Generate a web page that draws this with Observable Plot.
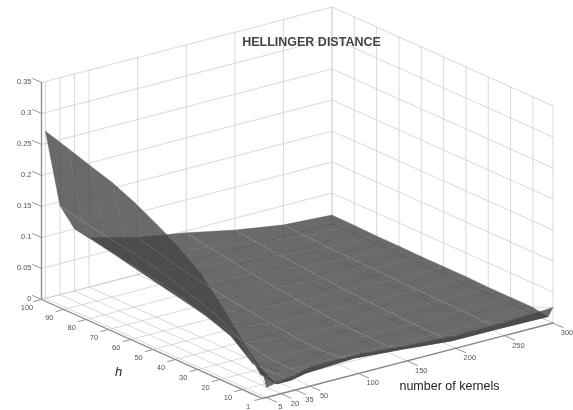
<!DOCTYPE html>
<html>
<head>
<meta charset="utf-8">
<style>
html,body{margin:0;padding:0;background:#fff}
svg{display:block;filter:blur(.55px)}
</style>
<script src="https://cdn.jsdelivr.net/npm/d3@7"></script>
<script src="https://cdn.jsdelivr.net/npm/@observablehq/plot@0.6"></script>
</head>
<body>
<div id="chart"></div>
<script>
// Data
const kernels = [5, 20, 35, 50, 100, 150, 200, 250, 300];
const hTicks = [1, 10, 20, 30, 40, 50, 60, 70, 80, 90, 100];
const hSamples = [1, 3, 10, 20, 30, 40, 50, 60, 70, 80, 90, 100];
const zTicks = [0, 0.05, 0.1, 0.15, 0.2, 0.25, 0.3, 0.35];
const zLabels = ["0", "0.05", "0.1", "0.15", "0.2", "0.25", "0.3", "0.35"];
// one row per number of kernels, one column per h (same order as hSamples)
const distK5   = [.016, .042, .069, .113, .153, .179, .2,   .2194,.2355,.2468,.2587,.27];
const distK20  = [.021, .012, .016, .06,  .08,  .093, .105, .115, .122, .128, .135, .1435];
const distK35  = [.024, .012, .012, .011, .04,  .053, .0645,.074, .08,  .087, .0935,.1];
const distK50  = [.031, .017, .014, .016, .024, .032, .04,  .048, .056, .064, .072, .08];
const distK100 = [.031, .021, .012, .01,  .013, .017, .022, .027, .033, .04,  .05,  .06];
const distK150 = [.025, .015, .01,  .01,  .012, .015, .019, .023, .028, .034, .04,  .047];
const distK200 = [.02,  .008, .008, .009, .01,  .012, .014, .017, .02,  .023, .027, .031];
const distK250 = [.021, .008, .008, .01,  .01,  .011, .012, .013, .014, .015, .017, .019];
const distK300 = [.025, .007, .011, .011, .011, .012, .012, .012, .013, .013, .014, .0145];
const distance = [distK5, distK20, distK35, distK50, distK100, distK150, distK200, distK250, distK300];

// Orthographic view of the (kernels, h, distance) box
const view = {x0: 41, y0: 299, kx: 0.9716, ky: 0.2525, hx: 2.232, hy: 1, zy: 620};
const px = d => view.x0 + (d.k - 1) * view.kx + (100 - d.h) * view.hx;
const py = d => view.y0 - (d.k - 1) * view.ky + (100 - d.h) * view.hy - d.z * view.zy;

const kMin = 1, kMax = 300, hMin = 1, hMax = 100, zMax = 0.35;
let id = 0;
const addSeg = (arr, ...pts) => { id++; pts.forEach(([k, h, z]) => arr.push({k, h, z, id})); };

// Walls and floor grid
const grid = [];
for (const k of kernels) addSeg(grid, [k, hMin, 0], [k, hMax, 0], [k, hMax, zMax]);
for (const h of hTicks) addSeg(grid, [kMin, h, 0], [kMax, h, 0], [kMax, h, zMax]);
for (const z of zTicks) addSeg(grid, [kMin, hMax, z], [kMax, hMax, z], [kMax, hMin, z]);

// Surface faces and mesh lines
const faces = [], kLines = [], hLines = [];
let fid = 0;
kernels.slice(0, -1).forEach((k, i) => {
  hSamples.slice(0, -1).forEach((h, j) => {
    fid++;
    [[i, j], [i + 1, j], [i + 1, j + 1], [i, j + 1]].forEach(([a, b]) => {
      faces.push({k: kernels[a], h: hSamples[b], z: distance[a][b], id: fid});
    });
  });
});
kernels.forEach((k, i) => { id++; const n = id; hSamples.forEach((h, j) => { if (h !== 3) kLines.push({k, h, z: distance[i][j], id: n}); }); });
hTicks.forEach(h => { id++; const n = id; const j = hSamples.indexOf(h); kernels.forEach((k, i) => hLines.push({k, h, z: distance[i][j], id: n})); });

// Axis box lines and ticks
const axisLines = [];
addSeg(axisLines, [kMin, hMax, zMax], [kMin, hMax, 0], [kMin, hMin, 0], [kMax, hMin, 0]);
const tickLines = [];
for (const h of hTicks) addSeg(tickLines, [kMin, h, 0], [kMin - 8, h, 0]);
for (const k of kernels) addSeg(tickLines, [k, hMin, 0], [k, hMin - 4.5, 0]);
for (const z of zTicks) addSeg(tickLines, [kMin, hMax, z], [kMin, hMax + 4, z]);

const labelStyle = {fontSize: 7.5, fill: "#555", fontFamily: "Liberation Sans, Arial, sans-serif"};
const line = (data, o) => Plot.line(data, {x: px, y: py, z: "id", ...o});

const chart = Plot.plot({
  width: 573, height: 410,
  marginLeft: 0, marginRight: 0, marginTop: 0, marginBottom: 0,
  x: {domain: [0, 573], range: [0, 573], axis: null},
  y: {domain: [0, 410], range: [0, 410], axis: null},
  style: {background: "#fff"},
  marks: [
    line(grid, {stroke: "#c8c8c8", strokeWidth: 0.8, strokeDasharray: "1,1"}),
    line(axisLines, {stroke: "#888", strokeWidth: 1.3}),
    line(tickLines, {stroke: "#888", strokeWidth: 0.9}),
    line(faces, {fill: "#454545", fillOpacity: 0.8, stroke: "none", curve: "linear-closed"}),
    line(kLines, {stroke: "#8c8c8c", strokeWidth: 0.7, strokeOpacity: 0.5}),
    line(hLines, {stroke: "#555", strokeWidth: 0.6, strokeOpacity: 0.5}),
    Plot.text(zTicks, {x: z => px({k: kMin, h: hMax}), y: z => py({k: kMin, h: hMax, z}), text: (z, i) => zLabels[i],
      dx: -10, dy: -1, textAnchor: "end", ...labelStyle}),
    Plot.text(hTicks, {x: h => px({k: kMin, h}), y: h => py({k: kMin, h, z: 0}), text: h => String(h),
      dx: -14.5, dy: 8.5, ...labelStyle}),
    Plot.text(kernels, {x: k => px({k, h: hMin}), y: k => py({k, h: hMin, z: 0}), text: k => String(k),
      dx: 14, dy: 9.5, ...labelStyle}),
    Plot.text(["HELLINGER DISTANCE"], {x: () => 311, y: () => 41, fontSize: 12.5, fontWeight: "bold", fill: "#444",
      fontFamily: "Liberation Sans, Arial, sans-serif"}),
    Plot.text(["h"], {x: () => 118, y: () => 371, fontSize: 13, fontStyle: "italic", fill: "#222",
      fontFamily: "Liberation Sans, Arial, sans-serif"}),
    Plot.text(["number of kernels"], {x: () => 449, y: () => 385, fontSize: 12.5, fill: "#222",
      fontFamily: "Liberation Sans, Arial, sans-serif"})
  ]
});
document.getElementById("chart").append(chart);
</script>
</body>
</html>
